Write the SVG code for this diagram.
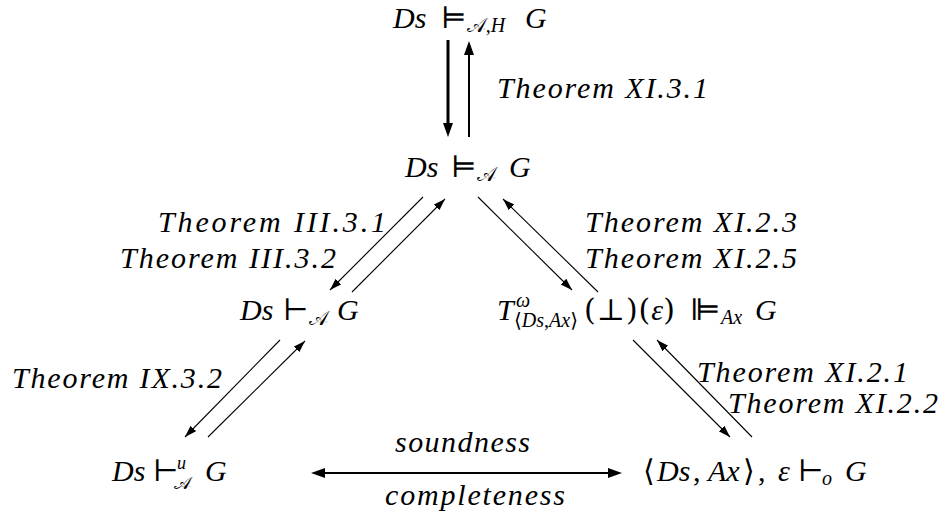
<svg xmlns="http://www.w3.org/2000/svg" width="947" height="525" viewBox="0 0 947 525">
<style>
text { font-family: "Liberation Serif", "DejaVu Serif", serif; font-size: 30px; fill: #000; }
.it { font-style: italic; }
.sy { font-style: normal; font-family: "DejaVu Serif", "DejaVu Sans", serif; }
.sb { font-size: 20px; }
.ss { font-size: 18px; }
.lbl { font-style: italic; }
.c { stroke: #000; fill: none; stroke-width: 1.1; }
.ck { stroke: #000; fill: none; stroke-width: 3; }
.cm { stroke: #000; fill: none; stroke-width: 2; }
</style>
<defs>
<marker id="ah" markerUnits="userSpaceOnUse" markerWidth="14" markerHeight="10" refX="12" refY="4" orient="auto">
<path d="M0,0 L12,4 L0,8 Z" fill="#000"/>
</marker>
<marker id="ahk" markerUnits="userSpaceOnUse" markerWidth="16" markerHeight="12" refX="9" refY="5" orient="auto">
<path d="M0,0 L14,5 L0,10 Z" fill="#000"/>
</marker>
<marker id="ahks" markerUnits="userSpaceOnUse" markerWidth="16" markerHeight="12" refX="5" refY="5" orient="auto-start-reverse">
<path d="M0,0 L14,5 L0,10 Z" fill="#000"/>
</marker>
</defs>

<g id="connectors">
<line class="ck" x1="448" y1="40" x2="448" y2="132" marker-end="url(#ahk)"/>
<line class="cm" x1="469" y1="137" x2="469" y2="46" marker-end="url(#ahk)"/>
<line class="c" x1="423" y1="197" x2="330" y2="290" marker-end="url(#ah)"/>
<line class="c" x1="352" y1="292" x2="445" y2="199" marker-end="url(#ah)"/>
<line class="c" x1="478" y1="197" x2="572" y2="290" marker-end="url(#ah)"/>
<line class="c" x1="598" y1="292" x2="503" y2="199" marker-end="url(#ah)"/>
<line class="c" x1="280" y1="340" x2="185" y2="437" marker-end="url(#ah)"/>
<line class="c" x1="208" y1="437" x2="305" y2="341" marker-end="url(#ah)"/>
<line class="c" x1="633" y1="340" x2="730" y2="437" marker-end="url(#ah)"/>
<line class="c" x1="752" y1="437" x2="657" y2="340" marker-end="url(#ah)"/>
<line class="cm" x1="320" y1="473" x2="617" y2="473" stroke-width="2.5" marker-start="url(#ahks)" marker-end="url(#ahk)"/>
</g>

<g id="n-top">
<text x="393" y="28"><tspan class="it">Ds</tspan><tspan class="sy" x="441">⊨</tspan><tspan class="sb" dy="4">𝒜</tspan><tspan class="sb">,</tspan><tspan class="sb it">H</tspan><tspan class="it" x="525" dy="-4">G</tspan></text>
</g>
<g id="l-xi31"><text class="lbl" x="497" y="98" textLength="211" lengthAdjust="spacing">Theorem XI.3.1</text></g>

<g id="n-mid">
<text x="405" y="177"><tspan class="it">Ds</tspan><tspan class="sy" x="451">⊨</tspan><tspan class="sb" dy="4">𝒜</tspan><tspan class="it" x="509" dy="-4">G</tspan></text>
</g>

<g id="l-iii"><text class="lbl" x="158" y="232" textLength="228" lengthAdjust="spacing">Theorem III.3.1</text>
<text class="lbl" x="120" y="268" textLength="216" lengthAdjust="spacing">Theorem III.3.2</text></g>
<g id="l-xi23"><text class="lbl" x="585" y="232" textLength="212" lengthAdjust="spacing">Theorem XI.2.3</text>
<text class="lbl" x="585" y="268" textLength="212" lengthAdjust="spacing">Theorem XI.2.5</text></g>

<g id="n-left">
<text x="240" y="320"><tspan class="it">Ds</tspan><tspan class="sy" x="283">⊢</tspan><tspan class="sb" dy="5">𝒜</tspan><tspan class="it" x="337" dy="-5">G</tspan></text>
</g>

<g id="n-right">
<text x="497" y="320"><tspan class="it">T</tspan><tspan class="sb it" x="516" dy="-13">ω</tspan><tspan class="sb sy" x="514" dy="20">⟨</tspan><tspan class="sb it">Ds</tspan><tspan class="sb">,</tspan><tspan class="sb it">Ax</tspan><tspan class="sb sy">⟩</tspan><tspan class="sy" x="584" dy="-7" letter-spacing="1">(⊥)(</tspan><tspan class="it">ε</tspan><tspan class="sy">)</tspan><tspan class="sy" x="690">⊫</tspan><tspan class="sb it" dy="4">Ax</tspan><tspan class="it" x="755" dy="-4">G</tspan></text>
</g>

<g id="l-ix"><text class="lbl" x="12" y="388" textLength="210" lengthAdjust="spacing">Theorem IX.3.2</text></g>
<g id="l-xi21"><text class="lbl" x="697" y="382" textLength="211" lengthAdjust="spacing">Theorem XI.2.1</text>
<text class="lbl" x="728" y="413" textLength="210" lengthAdjust="spacing">Theorem XI.2.2</text></g>

<g id="n-bl">
<text x="112" y="481"><tspan class="it">Ds</tspan><tspan class="sy" x="153">⊢</tspan><tspan class="ss it" x="177" dy="-12">u</tspan><tspan class="ss" x="174" dy="20">𝒜</tspan><tspan class="it" x="205" dy="-8">G</tspan></text>
</g>

<g id="n-br">
<text x="643" y="481"><tspan class="sy">⟨</tspan><tspan class="it" x="657">Ds</tspan><tspan x="693">,</tspan><tspan class="it" x="708">Ax</tspan><tspan class="sy" x="743">⟩</tspan><tspan x="758">,</tspan><tspan class="it" x="778">ε</tspan><tspan class="sy" x="798">⊢</tspan><tspan class="sb it" x="822" dy="4">o</tspan><tspan class="it" x="845" dy="-4">G</tspan></text>
</g>

<g id="l-sc"><text class="lbl" x="395" y="452" textLength="135" lengthAdjust="spacing">soundness</text>
<text class="lbl" x="385" y="505" textLength="180" lengthAdjust="spacing">completeness</text></g>
</svg>
